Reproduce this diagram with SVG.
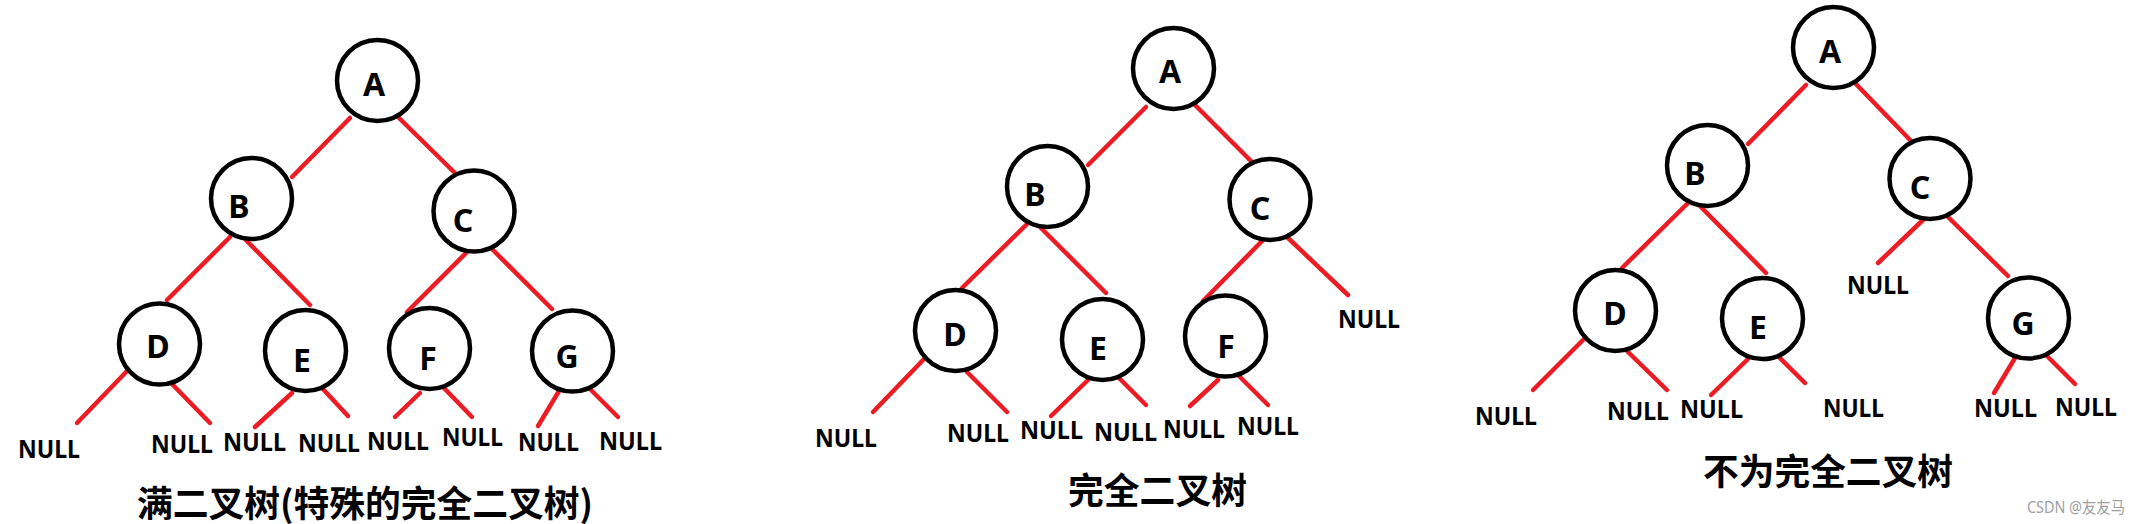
<svg xmlns="http://www.w3.org/2000/svg" width="2141" height="524" viewBox="0 0 2141 524">
<style>
.n{fill:#fff;stroke:#000;stroke-width:4.5}
.l{font-family:"Noto Sans","Open Sans","Noto Sans CJK SC",sans-serif;font-weight:bold;font-size:32px;fill:#000;text-anchor:middle}
.nl{font-family:"Noto Sans","Open Sans","Noto Sans CJK SC",sans-serif;font-weight:bold;font-size:25px;fill:#000}
.t{font-family:"Noto Sans CJK SC","Noto Sans",sans-serif;font-weight:bold;font-size:36px;fill:#000}
.w{font-family:"Noto Sans","Noto Sans CJK SC",sans-serif;font-size:16px;fill:#a0a0a0}
.e{stroke:#ed1c24;stroke-width:4.5;stroke-linecap:round;fill:none}
</style>
<rect width="2141" height="524" fill="#fff"/>
<g id="connectors" class="e">
<line x1="350" y1="118" x2="292" y2="177"/>
<line x1="398" y1="117" x2="457" y2="175"/>
<line x1="230" y1="237" x2="167" y2="300"/>
<line x1="243" y1="237" x2="310" y2="305"/>
<line x1="467" y1="252" x2="407" y2="312"/>
<line x1="491" y1="248" x2="552" y2="309"/>
<line x1="128" y1="370" x2="77" y2="423"/>
<line x1="172" y1="384" x2="210" y2="423"/>
<line x1="292" y1="393" x2="255" y2="427"/>
<line x1="322" y1="388" x2="348" y2="416"/>
<line x1="420" y1="393" x2="395" y2="417"/>
<line x1="443" y1="387" x2="472" y2="417"/>
<line x1="559" y1="391" x2="538" y2="426"/>
<line x1="589" y1="388" x2="618" y2="417"/>
<line x1="1146" y1="107" x2="1088" y2="165"/>
<line x1="1195" y1="105" x2="1253" y2="163"/>
<line x1="1027" y1="224" x2="962" y2="288"/>
<line x1="1038" y1="225" x2="1106" y2="293"/>
<line x1="1264" y1="239" x2="1203" y2="301"/>
<line x1="1287" y1="237" x2="1348" y2="295"/>
<line x1="925" y1="358" x2="873" y2="412"/>
<line x1="967" y1="372" x2="1007" y2="412"/>
<line x1="1088" y1="380" x2="1051" y2="416"/>
<line x1="1117" y1="376" x2="1146" y2="405"/>
<line x1="1218" y1="380" x2="1190" y2="406"/>
<line x1="1238" y1="375" x2="1268" y2="405"/>
<line x1="1806" y1="85" x2="1748" y2="144"/>
<line x1="1855" y1="83" x2="1913" y2="143"/>
<line x1="1687" y1="204" x2="1622" y2="268"/>
<line x1="1698" y1="204" x2="1766" y2="273"/>
<line x1="1924" y1="219" x2="1878" y2="263"/>
<line x1="1947" y1="216" x2="2008" y2="276"/>
<line x1="1585" y1="338" x2="1533" y2="390"/>
<line x1="1627" y1="351" x2="1667" y2="390"/>
<line x1="1748" y1="359" x2="1711" y2="395"/>
<line x1="1777" y1="355" x2="1805" y2="383"/>
<line x1="2015" y1="358" x2="1994" y2="393"/>
<line x1="2046" y1="355" x2="2075" y2="384"/>
</g>
<g id="t1-A"><circle class="n" cx="377.5" cy="80.5" r="40.5"/><text class="l" x="374" y="96">A</text></g>
<g id="t1-B"><circle class="n" cx="251.5" cy="198.5" r="40.5"/><text class="l" x="239" y="218">B</text></g>
<g id="t1-C"><circle class="n" cx="474" cy="211" r="40.5"/><text class="l" x="463" y="232">C</text></g>
<g id="t1-D"><circle class="n" cx="159.5" cy="344" r="40.5"/><text class="l" x="158" y="358">D</text></g>
<g id="t1-E"><circle class="n" cx="305.5" cy="350.5" r="40.5"/><text class="l" x="302" y="372">E</text></g>
<g id="t1-F"><circle class="n" cx="429.5" cy="348.5" r="40.5"/><text class="l" x="428" y="370">F</text></g>
<g id="t1-G"><circle class="n" cx="572.5" cy="351" r="40.5"/><text class="l" x="567" y="368">G</text></g>
<g id="t1-nulls" class="nl">
<text x="18" y="458" textLength="62" lengthAdjust="spacingAndGlyphs">NULL</text>
<text x="151" y="453" textLength="62" lengthAdjust="spacingAndGlyphs">NULL</text>
<text x="223" y="451" textLength="63" lengthAdjust="spacingAndGlyphs">NULL</text>
<text x="298" y="452" textLength="62" lengthAdjust="spacingAndGlyphs">NULL</text>
<text x="367" y="450" textLength="62" lengthAdjust="spacingAndGlyphs">NULL</text>
<text x="442" y="446" textLength="61" lengthAdjust="spacingAndGlyphs">NULL</text>
<text x="518" y="451" textLength="61" lengthAdjust="spacingAndGlyphs">NULL</text>
<text x="599" y="450" textLength="63" lengthAdjust="spacingAndGlyphs">NULL</text>
</g>
<text id="t1-title" class="t" x="137" y="517" textLength="456" lengthAdjust="spacingAndGlyphs">满二叉树(特殊的完全二叉树)</text>
<g id="t2-A"><circle class="n" cx="1173.5" cy="68.5" r="40.5"/><text class="l" x="1170" y="83">A</text></g>
<g id="t2-B"><circle class="n" cx="1047.5" cy="186.5" r="40.5"/><text class="l" x="1035" y="206">B</text></g>
<g id="t2-C"><circle class="n" cx="1270" cy="199.5" r="40.5"/><text class="l" x="1260" y="220">C</text></g>
<g id="t2-D"><circle class="n" cx="955.5" cy="330.5" r="40.5"/><text class="l" x="955" y="346">D</text></g>
<g id="t2-E"><circle class="n" cx="1102.5" cy="339.5" r="40.5"/><text class="l" x="1098" y="360">E</text></g>
<g id="t2-F"><circle class="n" cx="1225.5" cy="336" r="40.5"/><text class="l" x="1226" y="358">F</text></g>
<g id="t2-nulls" class="nl">
<text x="815" y="447" textLength="62" lengthAdjust="spacingAndGlyphs">NULL</text>
<text x="947" y="442" textLength="62" lengthAdjust="spacingAndGlyphs">NULL</text>
<text x="1020" y="439" textLength="63" lengthAdjust="spacingAndGlyphs">NULL</text>
<text x="1094" y="441" textLength="63" lengthAdjust="spacingAndGlyphs">NULL</text>
<text x="1163" y="438" textLength="62" lengthAdjust="spacingAndGlyphs">NULL</text>
<text x="1237" y="435" textLength="62" lengthAdjust="spacingAndGlyphs">NULL</text>
<text x="1338" y="328" textLength="62" lengthAdjust="spacingAndGlyphs">NULL</text>
</g>
<text id="t2-title" class="t" x="1068" y="504" textLength="179" lengthAdjust="spacingAndGlyphs">完全二叉树</text>
<g id="t3-A"><circle class="n" cx="1833.5" cy="47.5" r="40.5"/><text class="l" x="1830" y="63">A</text></g>
<g id="t3-B"><circle class="n" cx="1707.5" cy="165.5" r="40.5"/><text class="l" x="1695" y="185">B</text></g>
<g id="t3-C"><circle class="n" cx="1930" cy="178.5" r="40.5"/><text class="l" x="1920" y="199">C</text></g>
<g id="t3-D"><circle class="n" cx="1615.5" cy="310.5" r="40.5"/><text class="l" x="1615" y="325">D</text></g>
<g id="t3-E"><circle class="n" cx="1762.5" cy="318.5" r="40.5"/><text class="l" x="1758" y="339">E</text></g>
<g id="t3-G"><circle class="n" cx="2028.5" cy="318" r="40.5"/><text class="l" x="2023" y="335">G</text></g>
<g id="t3-nulls" class="nl">
<text x="1475" y="425" textLength="62" lengthAdjust="spacingAndGlyphs">NULL</text>
<text x="1607" y="420" textLength="62" lengthAdjust="spacingAndGlyphs">NULL</text>
<text x="1680" y="418" textLength="63" lengthAdjust="spacingAndGlyphs">NULL</text>
<text x="1823" y="417" textLength="61" lengthAdjust="spacingAndGlyphs">NULL</text>
<text x="1847" y="294" textLength="62" lengthAdjust="spacingAndGlyphs">NULL</text>
<text x="1974" y="417" textLength="63" lengthAdjust="spacingAndGlyphs">NULL</text>
<text x="2055" y="416" textLength="62" lengthAdjust="spacingAndGlyphs">NULL</text>
</g>
<text id="t3-title" class="t" x="1703" y="485" textLength="250" lengthAdjust="spacingAndGlyphs">不为完全二叉树</text>
<text id="watermark" class="w" x="2027" y="513" textLength="98" lengthAdjust="spacingAndGlyphs">CSDN @友友马</text>
</svg>
